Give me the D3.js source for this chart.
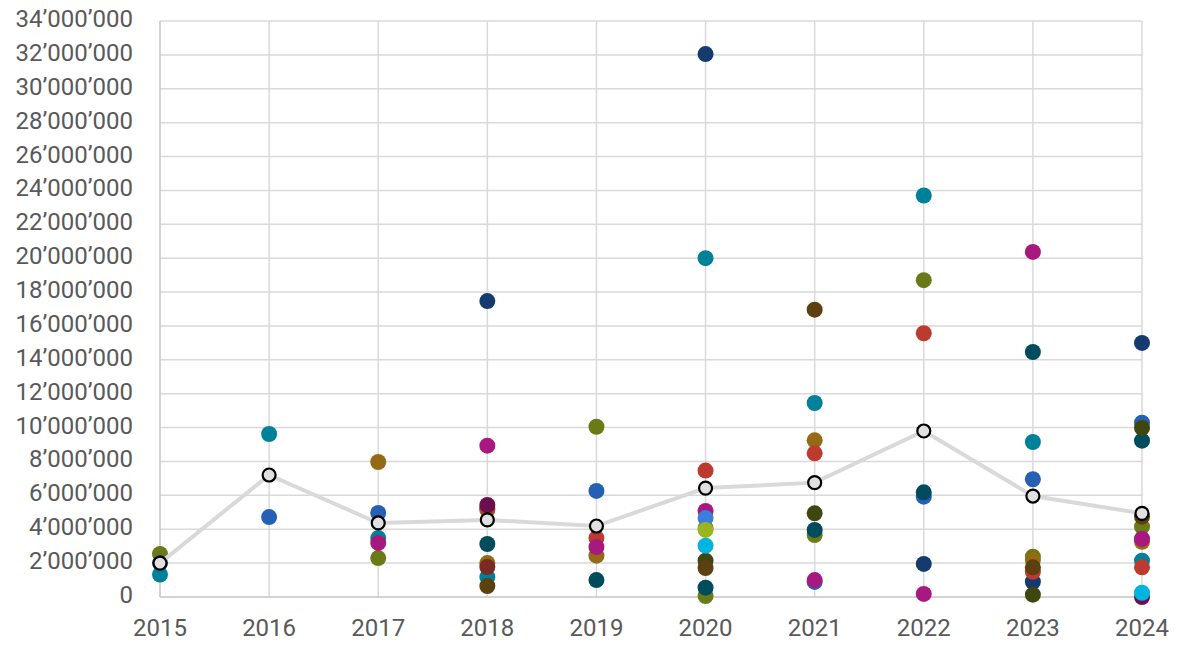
<!DOCTYPE html>
<html>
<head>
<meta charset="utf-8">
<script src="https://cdn.jsdelivr.net/npm/d3@7"></script>
<style>
  html, body { margin: 0; padding: 0; background: #fff; }
  svg { display: block; font-family: Roboto, "DejaVu Sans", sans-serif; }
</style>
</head>
<body>
<div id="content"></div>
<script>
// years on the x axis
const years = [2015, 2016, 2017, 2018, 2019, 2020, 2021, 2022, 2023, 2024];

// y ticks, every 2'000'000
const yTicks = d3.range(0, 34000001, 2000000);

// one array per coloured series, values in millions, null = no dot that year
const navy      = [null, null, null, 17.47, null, 32.05, null, 1.95, 0.9, 15.0];
const teal      = [1.33, 9.62, 3.48, 1.18, null, 20.0, 11.45, 23.7, 9.15, 2.14];
const olive     = [2.54, null, 2.3, 5.14, 10.05, 0.06, 3.66, 18.7, 2.38, 4.15];
const mustard   = [null, null, 7.97, 2.0, 2.44, 4.07, 9.25, null, 2.18, 3.26];
const red       = [null, null, null, 5.25, 3.48, 7.46, 8.48, 15.57, 1.49, 1.75];
const blue      = [2.0, 4.72, 4.96, null, 6.26, null, 0.89, 5.92, 6.95, 10.29];
const magenta   = [null, null, 3.19, 8.93, 2.95, 5.08, 1.0, 0.18, 20.37, 3.44];
const darkTeal  = [null, null, null, 3.13, 1.0, 0.55, 3.96, 6.18, 14.46, 9.23];
const darkOlive = [null, null, null, null, null, 2.14, 4.94, null, 0.14, 9.98];
const brown     = [null, null, null, 0.65, null, 1.71, 16.96, null, 1.75, 4.74];
const purple    = [null, null, null, 5.43, null, null, null, null, null, 0];
const maroon    = [null, null, null, 1.77, null, null, null, null, null, null];
const lightBlue = [null, null, null, null, null, 4.66, null, null, null, null];
const lime      = [null, null, null, null, null, 3.96, null, null, null, null];
const cyan      = [null, null, null, null, null, 3.03, null, null, null, 0.25];

// the grey line with outlined markers
const average = [2.0, 7.2, 4.37, 4.55, 4.19, 6.43, 6.75, 9.8, 5.96, 4.94];

const series = [
  { values: navy, color: '#143a6e' },
  { values: teal, color: '#00819a' },
  { values: olive, color: '#697a16' },
  { values: mustard, color: '#946a14' },
  { values: red, color: '#bd3a2e' },
  { values: blue, color: '#2660b5' },
  { values: magenta, color: '#a81980' },
  { values: darkTeal, color: '#004c5c' },
  { values: darkOlive, color: '#3f4710' },
  { values: brown, color: '#5c4010' },
  { values: purple, color: '#6b0f4f' },
  { values: maroon, color: '#7a2a22' },
  { values: lightBlue, color: '#3b7fdc' },
  { values: lime, color: '#9ab520' },
  { values: cyan, color: '#00b4e0' }
];

const width = 1179, height = 646;
const margin = { top: 21, right: 37, bottom: 49, left: 160 };

const svg = d3.select('#content').append('svg')
  .attr('width', width)
  .attr('height', height);

const x = d3.scalePoint()
  .domain(years)
  .range([margin.left, width - margin.right]);

const y = d3.scaleLinear()
  .domain([0, 34000000])
  .range([height - margin.bottom, margin.top]);

const fmt = v => d3.format(',')(v).replace(/,/g, '\u2019');

// gridlines
svg.append('g')
  .selectAll('line')
  .data(yTicks.slice(1))
  .join('line')
  .attr('x1', margin.left).attr('x2', width - margin.right)
  .attr('y1', d => y(d)).attr('y2', d => y(d))
  .attr('stroke', '#d9d9d9').attr('stroke-width', 1.5);

svg.append('g')
  .selectAll('line')
  .data(years.slice(1))
  .join('line')
  .attr('x1', d => x(d)).attr('x2', d => x(d))
  .attr('y1', y(34000000)).attr('y2', y(0))
  .attr('stroke', '#d9d9d9').attr('stroke-width', 1.5);

// axis lines
svg.append('line')
  .attr('x1', margin.left).attr('x2', margin.left)
  .attr('y1', y(34000000)).attr('y2', y(0))
  .attr('stroke', '#c4c4c4').attr('stroke-width', 1.5);
svg.append('line')
  .attr('x1', margin.left).attr('x2', width - margin.right)
  .attr('y1', y(0)).attr('y2', y(0))
  .attr('stroke', '#c4c4c4').attr('stroke-width', 1.5);

// y labels
svg.append('g')
  .selectAll('text')
  .data(yTicks)
  .join('text')
  .attr('x', 133)
  .attr('y', d => y(d) - 2)
  .attr('text-anchor', 'end')
  .attr('dominant-baseline', 'central')
  .attr('fill', '#595959')
  .style('font-size', '24px')
  .text(fmt);

// x labels
svg.append('g')
  .selectAll('text')
  .data(years)
  .join('text')
  .attr('x', d => x(d))
  .attr('y', 636)
  .attr('text-anchor', 'middle')
  .attr('fill', '#595959')
  .style('font-size', '24px')
  .text(d => d);

// coloured dots
const dotLayer = svg.append('g');
series.forEach(s => {
  const pts = years.map((yr, i) => ({ yr, v: s.values[i] })).filter(d => d.v !== null);
  dotLayer.append('g')
    .selectAll('circle')
    .data(pts)
    .join('circle')
    .attr('cx', d => x(d.yr))
    .attr('cy', d => y(d.v * 1e6))
    .attr('r', 8)
    .attr('fill', s.color);
});

// average line + markers
const avgPts = years.map((yr, i) => ({ yr, v: average[i] }));
svg.append('path')
  .datum(avgPts)
  .attr('d', d3.line().x(d => x(d.yr)).y(d => y(d.v * 1e6)))
  .attr('fill', 'none')
  .attr('stroke', '#d9d9d9')
  .attr('stroke-width', 4);

svg.append('g')
  .selectAll('circle')
  .data(avgPts)
  .join('circle')
  .attr('cx', d => x(d.yr))
  .attr('cy', d => y(d.v * 1e6))
  .attr('r', 6.5)
  .attr('fill', '#e0e0e0')
  .attr('stroke', '#000')
  .attr('stroke-width', 2.2);
</script>
</body>
</html>
